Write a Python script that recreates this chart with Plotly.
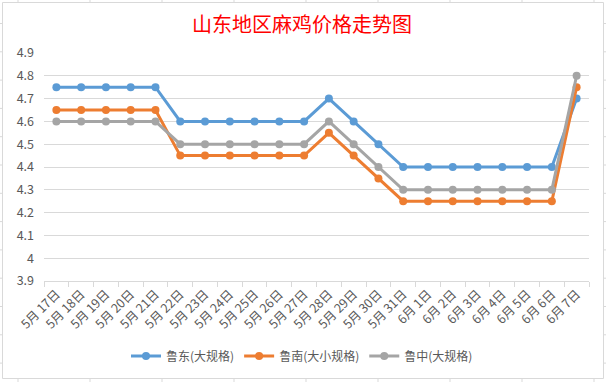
import plotly.graph_objects as go

categories = ["5月17日", "5月18日", "5月19日", "5月20日", "5月21日", "5月22日", "5月23日",
              "5月24日", "5月25日", "5月26日", "5月27日", "5月28日", "5月29日", "5月30日",
              "5月31日", "6月1日", "6月2日", "6月3日", "6月4日", "6月5日", "6月6日", "6月7日"]
tick_labels = ["5月 17日", "5月 18日", "5月 19日", "5月 20日", "5月 21日", "5月 22日", "5月 23日",
               "5月 24日", "5月 25日", "5月 26日", "5月 27日", "5月 28日", "5月 29日", "5月 30日",
               "5月 31日", "6月 1日", "6月 2日", "6月 3日", "6月 4日", "6月 5日", "6月 6日", "6月 7日"]
ludong = [4.75, 4.75, 4.75, 4.75, 4.75, 4.6, 4.6, 4.6, 4.6, 4.6, 4.6, 4.7, 4.6, 4.5,
          4.4, 4.4, 4.4, 4.4, 4.4, 4.4, 4.4, 4.7]
lunan = [4.65, 4.65, 4.65, 4.65, 4.65, 4.45, 4.45, 4.45, 4.45, 4.45, 4.45, 4.55, 4.45, 4.35,
         4.25, 4.25, 4.25, 4.25, 4.25, 4.25, 4.25, 4.75]
luzhong = [4.6, 4.6, 4.6, 4.6, 4.6, 4.5, 4.5, 4.5, 4.5, 4.5, 4.5, 4.6, 4.5, 4.4,
           4.3, 4.3, 4.3, 4.3, 4.3, 4.3, 4.3, 4.8]
series_names = ["鲁东(大规格)", "鲁南(大小规格)", "鲁中(大规格)"]
series_colors = ["#5B9BD5", "#ED7D31", "#A5A5A5"]
y_ticks = [3.9, 4.0, 4.1, 4.2, 4.3, 4.4, 4.5, 4.6, 4.7, 4.8, 4.9]
y_labels = ["3.9", "4", "4.1", "4.2", "4.3", "4.4", "4.5", "4.6", "4.7", "4.8", "4.9"]

FONT = "Noto Sans CJK SC, Noto Sans, sans-serif"
W, H = 606, 382
L, R, T, B = 44, 17, 53, 101
pw, ph = W - L - R, H - T - B


def px(x):
    return (x - L) / pw


def py(y):
    return (H - B - y) / ph


fig = go.Figure()
for name, vals, col in zip(series_names, [ludong, lunan, luzhong], series_colors):
    fig.add_trace(go.Scatter(
        x=categories, y=vals, name=name, mode="lines+markers",
        line=dict(color=col, width=3),
        marker=dict(color=col, size=8),
    ))

shapes = [dict(type="rect", xref="paper", yref="paper",
               x0=px(2.5), x1=px(603.5), y0=py(378.5), y1=py(2.5),
               line=dict(color="#D9D9D9", width=1), layer="below")]
for xx in [18, 90, 162, 234, 306, 378, 450, 522, 594]:
    shapes.append(dict(type="line", xref="paper", yref="paper", x0=px(xx), x1=px(xx),
                       y0=py(0), y1=py(2.5), line=dict(color="#D9D9D9", width=1)))
    shapes.append(dict(type="line", xref="paper", yref="paper", x0=px(xx), x1=px(xx),
                       y0=py(378.5), y1=py(382), line=dict(color="#D9D9D9", width=1)))
for k in range(13):
    yy = 23.5 + 28.3 * k
    shapes.append(dict(type="line", xref="paper", yref="paper", x0=px(0), x1=px(2.5),
                       y0=py(yy), y1=py(yy), line=dict(color="#D9D9D9", width=1)))
    shapes.append(dict(type="line", xref="paper", yref="paper", x0=px(603.5), x1=px(606),
                       y0=py(yy), y1=py(yy), line=dict(color="#D9D9D9", width=1)))

fig.update_layout(
    width=W, height=H,
    margin=dict(l=L, r=R, t=T, b=B),
    paper_bgcolor="white", plot_bgcolor="white",
    font=dict(family=FONT, size=12, color="#595959"),
    title=dict(text="山东地区麻鸡价格走势图", x=px(302), xref="paper", xanchor="center",
               y=1 - 25 / H, yanchor="middle", yref="container",
               font=dict(family=FONT, size=20, color="#FF0000")),
    showlegend=True,
    legend=dict(orientation="h", x=px(302), xanchor="center", y=py(356), yanchor="middle",
                font=dict(family=FONT, size=12, color="#595959"),
                itemwidth=30, tracegroupgap=0, bgcolor="rgba(0,0,0,0)"),
    xaxis=dict(type="category", tickangle=-45, showgrid=False, showline=True,
               linecolor="#D9D9D9", linewidth=1, ticks="outside", tickson="boundaries",
               ticklen=5, tickcolor="#D9D9D9",
               tickmode="array", tickvals=categories, ticktext=tick_labels,
               tickfont=dict(size=12.5, color="#595959"),
               range=[-0.5, len(categories) - 0.5], fixedrange=True),
    yaxis=dict(range=[3.9, 4.9], tickvals=y_ticks, ticktext=y_labels, showgrid=True,
               gridcolor="#D9D9D9", gridwidth=1, zeroline=False, showline=False,
               ticks="", ticklabelstandoff=9, tickfont=dict(size=12.5, color="#595959")),
    shapes=shapes,
)

fig.write_html("out.html", config={"displayModeBar": False},
               post_script="document.body.style.margin='0';document.body.style.padding='0';")
